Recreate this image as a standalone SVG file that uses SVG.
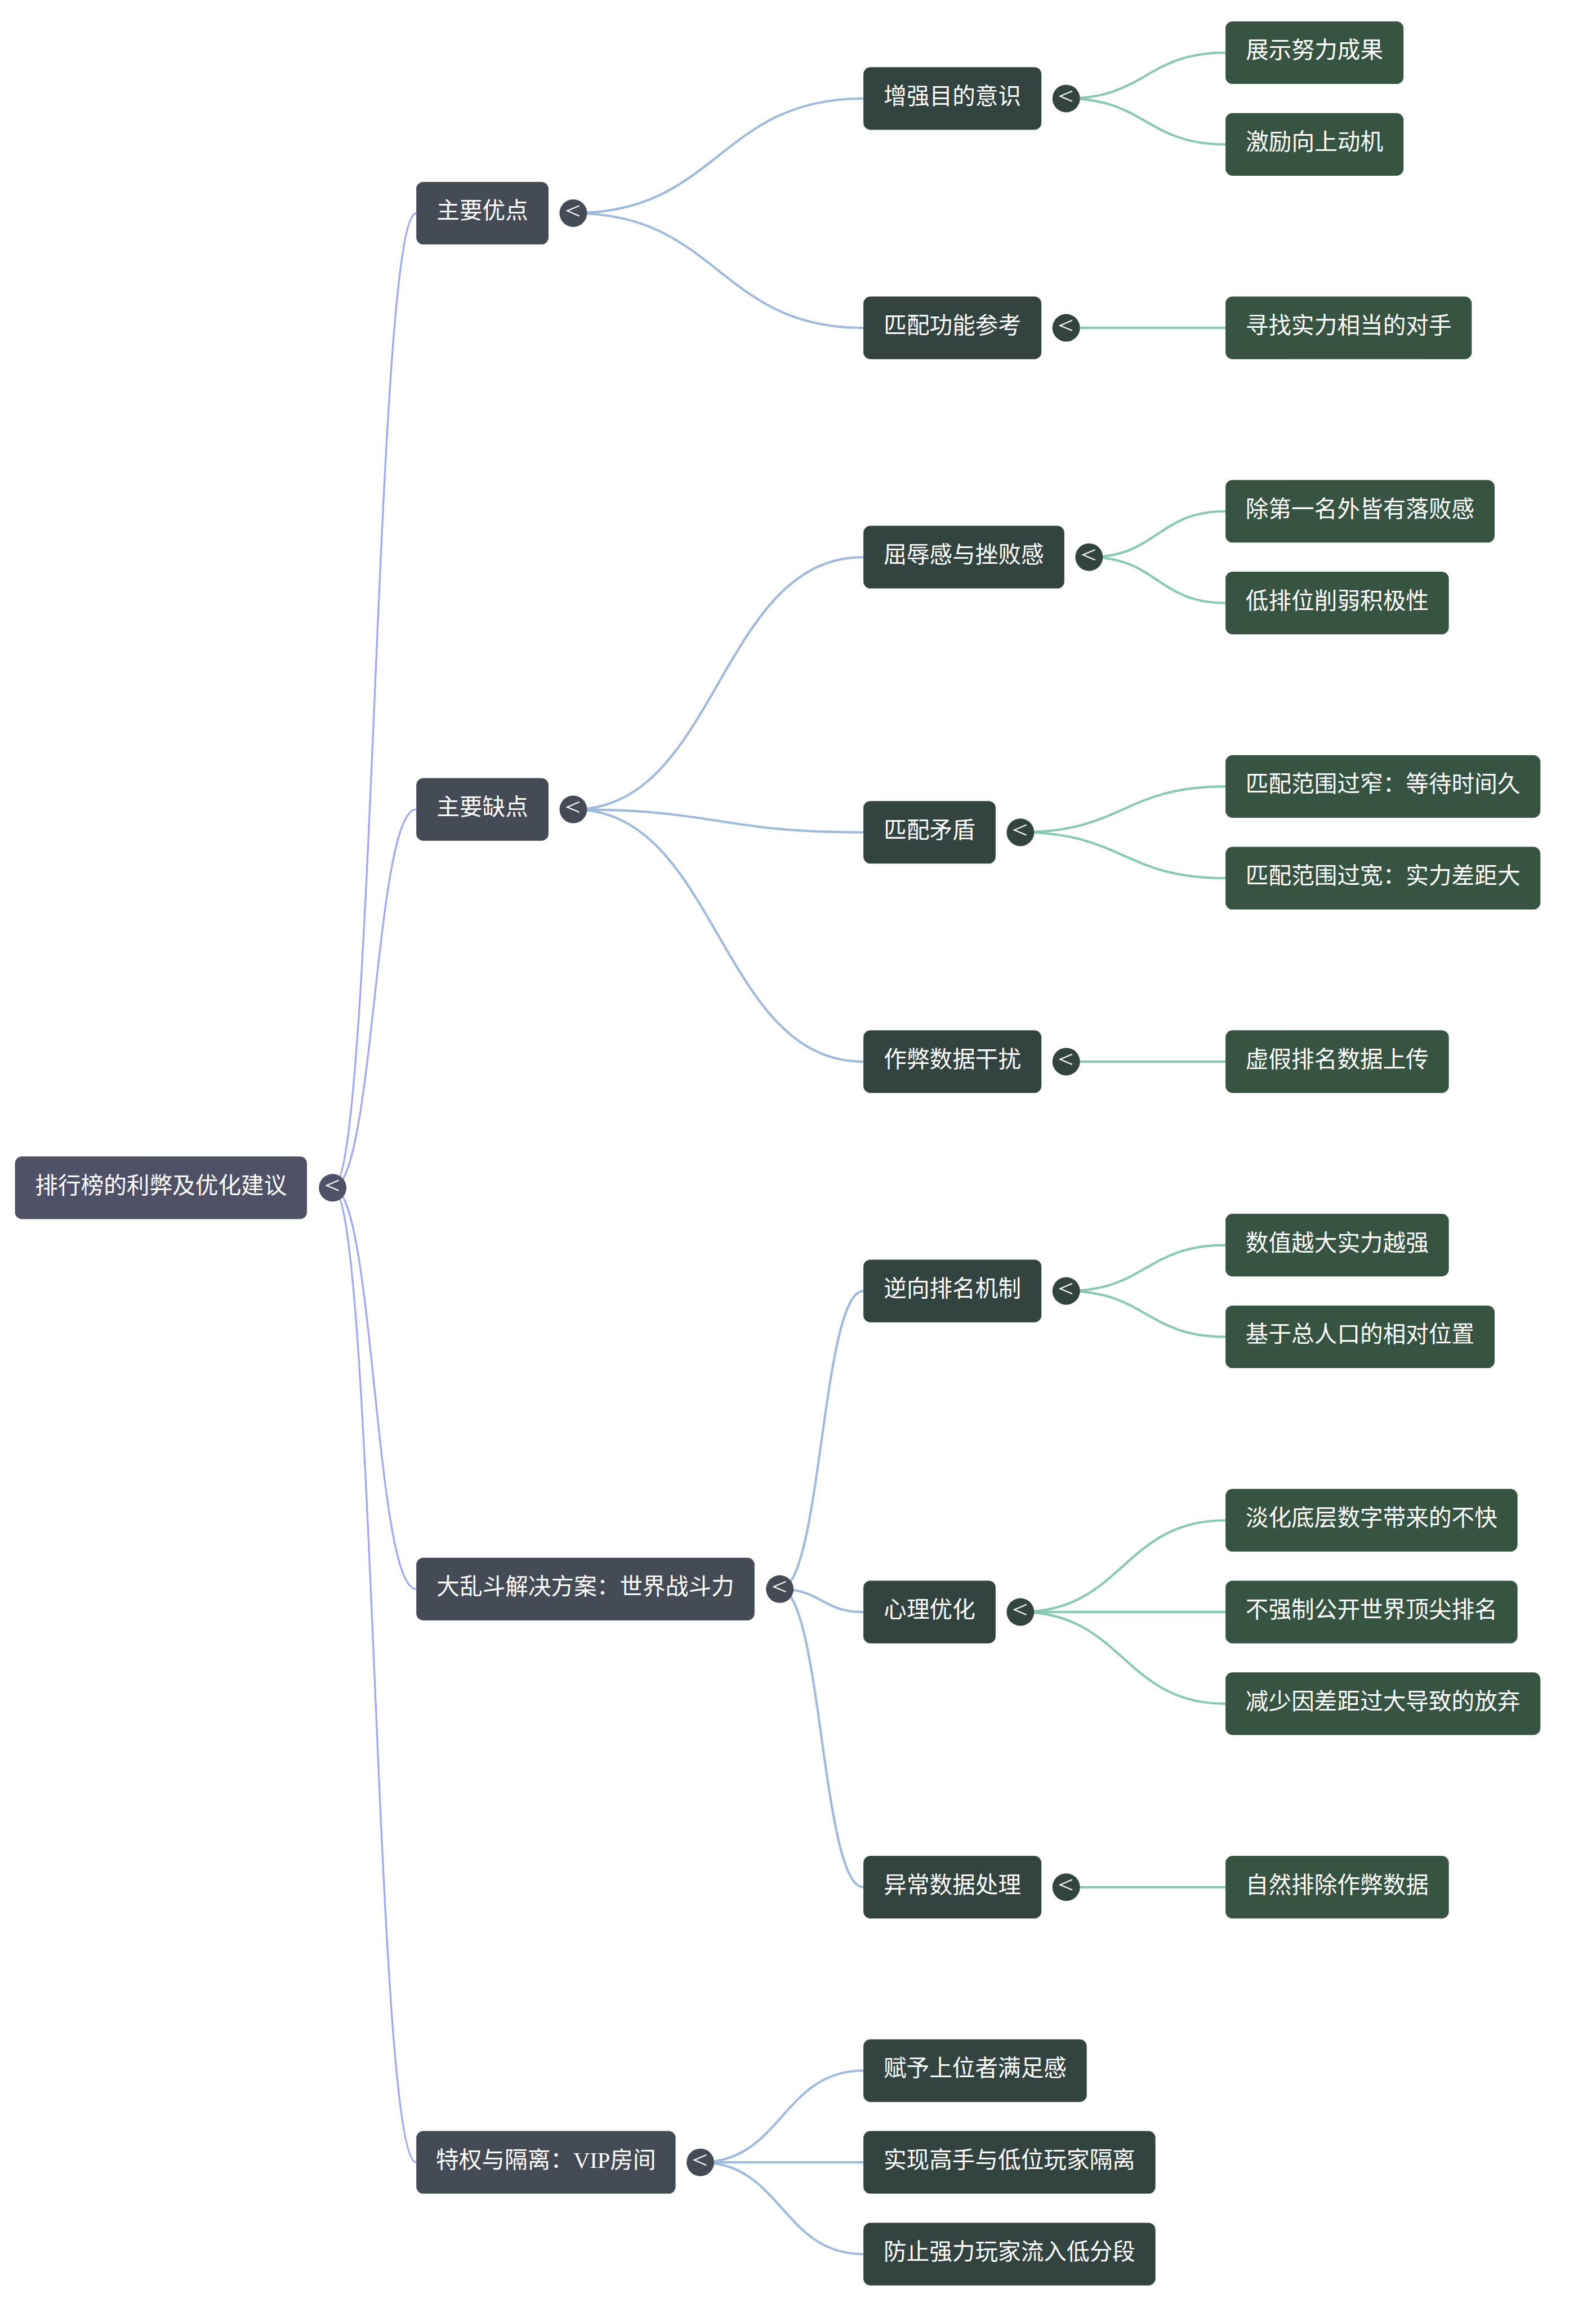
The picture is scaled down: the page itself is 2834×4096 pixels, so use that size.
<svg xmlns="http://www.w3.org/2000/svg" xmlns:xlink="http://www.w3.org/1999/xlink" width="2834" height="4096" viewBox="0 0 2834 4096">
<style>
.e0{fill:none;stroke:#a1a9f4;stroke-width:4}
.e1{fill:none;stroke:#a0badb;stroke-width:5}
.e2{fill:none;stroke:#88c8b5;stroke-width:5}
.r0{fill:#4f5167}
.r1{fill:#444b55}
.r2{fill:#33433f}
.r3{fill:#375443}
.t{fill:#ffffff;font-family:'Liberation Serif','Noto Sans CJK SC',serif;font-size:49px;text-anchor:middle}
.chev{fill:none;stroke:#ffffff;stroke-width:2.6}
</style>
<defs>
<path id="chev" class="chev" d="M13,-16 L-13,-5 L13,6"/>
</defs>
<rect width="2834" height="4096" fill="#ffffff"/>
<g transform="scale(0.82963)">
<g id="connectors">
<path class="e0" d="M712,2541.9 C801.5,2541.9 801.5,456.2 891,456.2"/>
<path class="e0" d="M712,2541.9 C801.5,2541.9 801.5,1732.2 891,1732.2"/>
<path class="e0" d="M712,2541.9 C801.5,2541.9 801.5,3400.7 891,3400.7"/>
<path class="e0" d="M712,2541.9 C801.5,2541.9 801.5,4627.6 891,4627.6"/>
<path class="e1" d="M1227,456.2 C1537.5,456.2 1537.5,210.85 1848,210.85"/>
<path class="e1" d="M1227,456.2 C1537.5,456.2 1537.5,701.6 1848,701.6"/>
<path class="e1" d="M1227,1732.2 C1537.5,1732.2 1537.5,1192.35 1848,1192.35"/>
<path class="e1" d="M1227,1732.2 C1537.5,1732.2 1537.5,1781.25 1848,1781.25"/>
<path class="e1" d="M1227,1732.2 C1537.5,1732.2 1537.5,2272 1848,2272"/>
<path class="e1" d="M1669,3400.7 C1758.5,3400.7 1758.5,2762.75 1848,2762.75"/>
<path class="e1" d="M1669,3400.7 C1758.5,3400.7 1758.5,3449.8 1848,3449.8"/>
<path class="e1" d="M1669,3400.7 C1758.5,3400.7 1758.5,4038.7 1848,4038.7"/>
<path class="e1" d="M1499,4627.6 C1673.5,4627.6 1673.5,4431.3 1848,4431.3"/>
<path class="e1" d="M1499,4627.6 L1848,4627.6"/>
<path class="e1" d="M1499,4627.6 C1673.5,4627.6 1673.5,4823.9 1848,4823.9"/>
<path class="e2" d="M2282,210.85 C2452.5,210.85 2452.5,112.7 2623,112.7"/>
<path class="e2" d="M2282,210.85 C2452.5,210.85 2452.5,309 2623,309"/>
<path class="e2" d="M2282,701.6 L2623,701.6"/>
<path class="e2" d="M2331,1192.35 C2477,1192.35 2477,1094.2 2623,1094.2"/>
<path class="e2" d="M2331,1192.35 C2477,1192.35 2477,1290.5 2623,1290.5"/>
<path class="e2" d="M2184,1781.25 C2403.5,1781.25 2403.5,1683.1 2623,1683.1"/>
<path class="e2" d="M2184,1781.25 C2403.5,1781.25 2403.5,1879.4 2623,1879.4"/>
<path class="e2" d="M2282,2272 L2623,2272"/>
<path class="e2" d="M2282,2762.75 C2452.5,2762.75 2452.5,2664.6 2623,2664.6"/>
<path class="e2" d="M2282,2762.75 C2452.5,2762.75 2452.5,2860.9 2623,2860.9"/>
<path class="e2" d="M2184,3449.8 C2403.5,3449.8 2403.5,3253.5 2623,3253.5"/>
<path class="e2" d="M2184,3449.8 L2623,3449.8"/>
<path class="e2" d="M2184,3449.8 C2403.5,3449.8 2403.5,3646.1 2623,3646.1"/>
<path class="e2" d="M2282,4038.7 L2623,4038.7"/>
</g>

<g id="root"><rect class="r0" x="32" y="2474.9" width="625" height="134" rx="15"/><text class="t" x="344.5" y="2553.9">排行榜的利弊及优化建议</text><circle class="r0" cx="712" cy="2541.9" r="29.5"/><use xlink:href="#chev" x="712" y="2541.9"/></g>

<g id="n-youdian"><rect class="r1" x="891" y="389.2" width="283" height="134" rx="15"/><text class="t" x="1032.5" y="468.2">主要优点</text><circle class="r1" cx="1227" cy="456.2" r="29.5"/><use xlink:href="#chev" x="1227" y="456.2"/></g>
<g id="n-quedian"><rect class="r1" x="891" y="1665.2" width="283" height="134" rx="15"/><text class="t" x="1032.5" y="1744.2">主要缺点</text><circle class="r1" cx="1227" cy="1732.2" r="29.5"/><use xlink:href="#chev" x="1227" y="1732.2"/></g>
<g id="n-daluandou"><rect class="r1" x="891" y="3333.7" width="724" height="134" rx="15"/><text class="t" x="1253" y="3412.7">大乱斗解决方案：世界战斗力</text><circle class="r1" cx="1669" cy="3400.7" r="29.5"/><use xlink:href="#chev" x="1669" y="3400.7"/></g>
<g id="n-vip"><rect class="r1" x="891" y="4560.6" width="555" height="134" rx="15"/><text class="t" x="1168.5" y="4639.6">特权与隔离：VIP房间</text><circle class="r1" cx="1499" cy="4627.6" r="29.5"/><use xlink:href="#chev" x="1499" y="4627.6"/></g>

<g id="n-zengqiang"><rect class="r2" x="1848" y="143.85" width="381" height="134" rx="15"/><text class="t" x="2038.5" y="222.85">增强目的意识</text><circle class="r2" cx="2282" cy="210.85" r="29.5"/><use xlink:href="#chev" x="2282" y="210.85"/></g>
<g id="n-pipeican"><rect class="r2" x="1848" y="634.6" width="381" height="134" rx="15"/><text class="t" x="2038.5" y="713.6">匹配功能参考</text><circle class="r2" cx="2282" cy="701.6" r="29.5"/><use xlink:href="#chev" x="2282" y="701.6"/></g>
<g id="n-quru"><rect class="r2" x="1848" y="1125.35" width="430" height="134" rx="15"/><text class="t" x="2063" y="1204.35">屈辱感与挫败感</text><circle class="r2" cx="2331" cy="1192.35" r="29.5"/><use xlink:href="#chev" x="2331" y="1192.35"/></g>
<g id="n-maodun"><rect class="r2" x="1848" y="1714.25" width="283" height="134" rx="15"/><text class="t" x="1989.5" y="1793.25">匹配矛盾</text><circle class="r2" cx="2184" cy="1781.25" r="29.5"/><use xlink:href="#chev" x="2184" y="1781.25"/></g>
<g id="n-zuobi"><rect class="r2" x="1848" y="2205" width="381" height="134" rx="15"/><text class="t" x="2038.5" y="2284">作弊数据干扰</text><circle class="r2" cx="2282" cy="2272" r="29.5"/><use xlink:href="#chev" x="2282" y="2272"/></g>
<g id="n-nixiang"><rect class="r2" x="1848" y="2695.75" width="381" height="134" rx="15"/><text class="t" x="2038.5" y="2774.75">逆向排名机制</text><circle class="r2" cx="2282" cy="2762.75" r="29.5"/><use xlink:href="#chev" x="2282" y="2762.75"/></g>
<g id="n-xinli"><rect class="r2" x="1848" y="3382.8" width="283" height="134" rx="15"/><text class="t" x="1989.5" y="3461.8">心理优化</text><circle class="r2" cx="2184" cy="3449.8" r="29.5"/><use xlink:href="#chev" x="2184" y="3449.8"/></g>
<g id="n-yichang"><rect class="r2" x="1848" y="3971.7" width="381" height="134" rx="15"/><text class="t" x="2038.5" y="4050.7">异常数据处理</text><circle class="r2" cx="2282" cy="4038.7" r="29.5"/><use xlink:href="#chev" x="2282" y="4038.7"/></g>
<g id="n-fuyu"><rect class="r2" x="1848" y="4364.3" width="478" height="134" rx="15"/><text class="t" x="2087" y="4443.3">赋予上位者满足感</text></g>
<g id="n-shixian"><rect class="r2" x="1848" y="4560.6" width="625" height="134" rx="15"/><text class="t" x="2160.5" y="4639.6">实现高手与低位玩家隔离</text></g>
<g id="n-fangzhi"><rect class="r2" x="1848" y="4756.9" width="625" height="134" rx="15"/><text class="t" x="2160.5" y="4835.9">防止强力玩家流入低分段</text></g>

<g id="n-zhanshi"><rect class="r3" x="2623" y="45.7" width="381" height="134" rx="15"/><text class="t" x="2813.5" y="124.7">展示努力成果</text></g>
<g id="n-jili"><rect class="r3" x="2623" y="242" width="381" height="134" rx="15"/><text class="t" x="2813.5" y="321">激励向上动机</text></g>
<g id="n-xunzhao"><rect class="r3" x="2623" y="634.6" width="527" height="134" rx="15"/><text class="t" x="2886.5" y="713.6">寻找实力相当的对手</text></g>
<g id="n-chudiyi"><rect class="r3" x="2623" y="1027.2" width="576" height="134" rx="15"/><text class="t" x="2911" y="1106.2">除第一名外皆有落败感</text></g>
<g id="n-dipaiwei"><rect class="r3" x="2623" y="1223.5" width="478" height="134" rx="15"/><text class="t" x="2862" y="1302.5">低排位削弱积极性</text></g>
<g id="n-guozhai"><rect class="r3" x="2623" y="1616.1" width="674" height="134" rx="15"/><text class="t" x="2960" y="1695.1">匹配范围过窄：等待时间久</text></g>
<g id="n-guokuan"><rect class="r3" x="2623" y="1812.4" width="674" height="134" rx="15"/><text class="t" x="2960" y="1891.4">匹配范围过宽：实力差距大</text></g>
<g id="n-xujia"><rect class="r3" x="2623" y="2205" width="478" height="134" rx="15"/><text class="t" x="2862" y="2284">虚假排名数据上传</text></g>
<g id="n-shuzhi"><rect class="r3" x="2623" y="2597.6" width="478" height="134" rx="15"/><text class="t" x="2862" y="2676.6">数值越大实力越强</text></g>
<g id="n-jiyu"><rect class="r3" x="2623" y="2793.9" width="576" height="134" rx="15"/><text class="t" x="2911" y="2872.9">基于总人口的相对位置</text></g>
<g id="n-danhua"><rect class="r3" x="2623" y="3186.5" width="625" height="134" rx="15"/><text class="t" x="2935.5" y="3265.5">淡化底层数字带来的不快</text></g>
<g id="n-buqiangzhi"><rect class="r3" x="2623" y="3382.8" width="625" height="134" rx="15"/><text class="t" x="2935.5" y="3461.8">不强制公开世界顶尖排名</text></g>
<g id="n-jianshao"><rect class="r3" x="2623" y="3579.1" width="674" height="134" rx="15"/><text class="t" x="2960" y="3658.1">减少因差距过大导致的放弃</text></g>
<g id="n-ziran"><rect class="r3" x="2623" y="3971.7" width="478" height="134" rx="15"/><text class="t" x="2862" y="4050.7">自然排除作弊数据</text></g>
</g>
</svg>
